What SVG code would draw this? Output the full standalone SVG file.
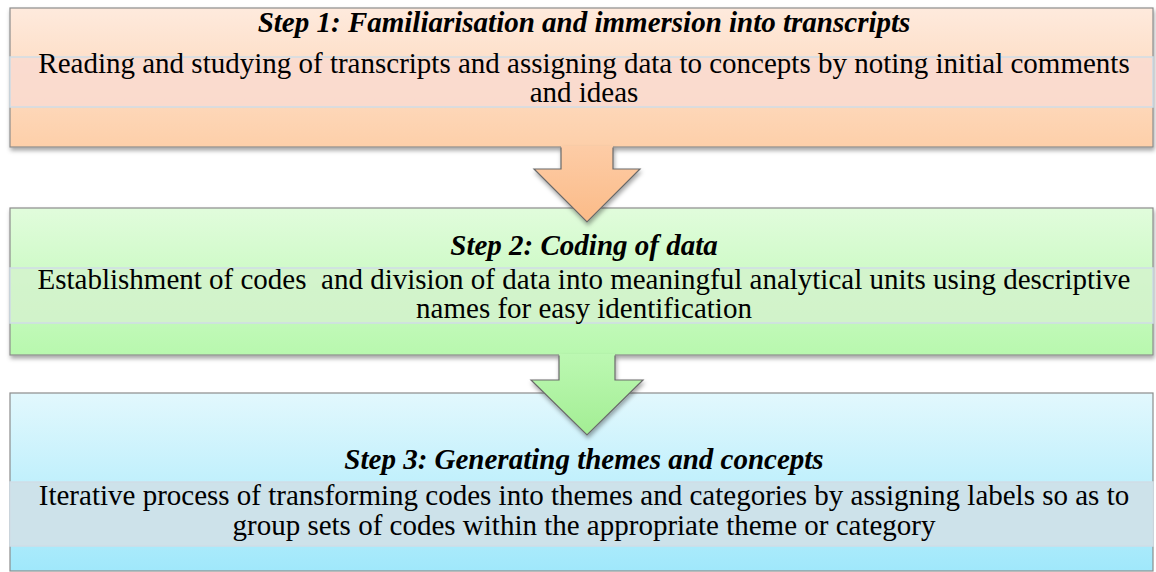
<svg xmlns="http://www.w3.org/2000/svg" width="1156" height="572" viewBox="0 0 1156 572">
<defs>
<linearGradient id="g1" x1="0" y1="0" x2="0" y2="1"><stop offset="0" stop-color="#feeadd"/><stop offset="1" stop-color="#fdcfa9"/></linearGradient>
<linearGradient id="g2" x1="0" y1="0" x2="0" y2="1"><stop offset="0" stop-color="#e1fcdc"/><stop offset="1" stop-color="#b8f8ae"/></linearGradient>
<linearGradient id="g3" x1="0" y1="0" x2="0" y2="1"><stop offset="0" stop-color="#e2f8fd"/><stop offset="1" stop-color="#a0e8fb"/></linearGradient>
<linearGradient id="a1" x1="0" y1="0" x2="0" y2="1"><stop offset="0" stop-color="#fdcca6"/><stop offset="1" stop-color="#fbbb88"/></linearGradient>
<linearGradient id="a2" x1="0" y1="0" x2="0" y2="1"><stop offset="0" stop-color="#bcf8b2"/><stop offset="1" stop-color="#a3ee94"/></linearGradient>
<filter id="sh" x="-5%" y="-10%" width="110%" height="130%"><feDropShadow dx="1" dy="3" stdDeviation="2" flood-color="#000" flood-opacity="0.35"/></filter>
</defs>
<g id="step1">
<rect x="10" y="8" width="1143" height="139" fill="url(#g1)" stroke="#8c8c8c" stroke-width="1.2" filter="url(#sh)"/>
<rect x="10" y="57" width="1143" height="50" fill="#f9dbd0" fill-opacity="0.85" stroke="#cfdde6" stroke-width="1.5"/>
<text font-family="Liberation Serif" font-size="29" font-weight="bold" font-style="italic" text-anchor="middle" fill="#000" x="584" y="32">Step 1: Familiarisation and immersion into transcripts</text>
<text font-family="Liberation Serif" font-size="29" text-anchor="middle" fill="#000" x="584" y="73">Reading and studying of transcripts and assigning data to concepts by noting initial comments</text>
<text font-family="Liberation Serif" font-size="29" text-anchor="middle" fill="#000" x="584" y="102">and ideas</text>
</g>
<g id="step2">
<rect x="10" y="208" width="1143" height="147" fill="url(#g2)" stroke="#8c8c8c" stroke-width="1.2" filter="url(#sh)"/>
<rect x="10" y="268" width="1143" height="55" fill="#d3f2cd" fill-opacity="0.85" stroke="#cfdde6" stroke-width="1.5"/>
<text font-family="Liberation Serif" font-size="29" font-weight="bold" font-style="italic" text-anchor="middle" fill="#000" x="584" y="255">Step 2: Coding of data</text>
<text font-family="Liberation Serif" font-size="29" text-anchor="middle" fill="#000" x="584" y="289" xml:space="preserve">Establishment of codes  and division of data into meaningful analytical units using descriptive</text>
<text font-family="Liberation Serif" font-size="29" text-anchor="middle" fill="#000" x="584" y="318">names for easy identification</text>
</g>
<g id="step3">
<rect x="10" y="393" width="1143" height="178" fill="url(#g3)" stroke="#8c8c8c" stroke-width="1.2"/>
<rect x="10" y="482" width="1143" height="64" fill="#cde2ea" stroke="#cfdde6" stroke-width="1.5"/>
<text font-family="Liberation Serif" font-size="29" font-weight="bold" font-style="italic" text-anchor="middle" fill="#000" x="584" y="469">Step 3: Generating themes and concepts</text>
<text font-family="Liberation Serif" font-size="29" text-anchor="middle" fill="#000" x="584" y="505">Iterative process of transforming codes into themes and categories by assigning labels so as to</text>
<text font-family="Liberation Serif" font-size="29" text-anchor="middle" fill="#000" x="584" y="535">group sets of codes within the appropriate theme or category</text>
</g>
<g id="connectors">
<g id="arrow1" filter="url(#sh)">
<polygon points="561,146 561,169 534,169 587,222 640,169 613,169 613,146" fill="url(#a1)"/>
<polyline points="561,147.5 561,169 534,169 587,222 640,169 613,169 613,147.5" fill="none" stroke="#6a6a6a" stroke-width="1.2"/>
</g>
<g id="arrow2" filter="url(#sh)">
<polygon points="559,354 559,380 531,380 587,435 643,380 615,380 615,354" fill="url(#a2)"/>
<polyline points="559,355.5 559,380 531,380 587,435 643,380 615,380 615,355.5" fill="none" stroke="#6a6a6a" stroke-width="1.2"/>
</g>
</g>
</svg>
